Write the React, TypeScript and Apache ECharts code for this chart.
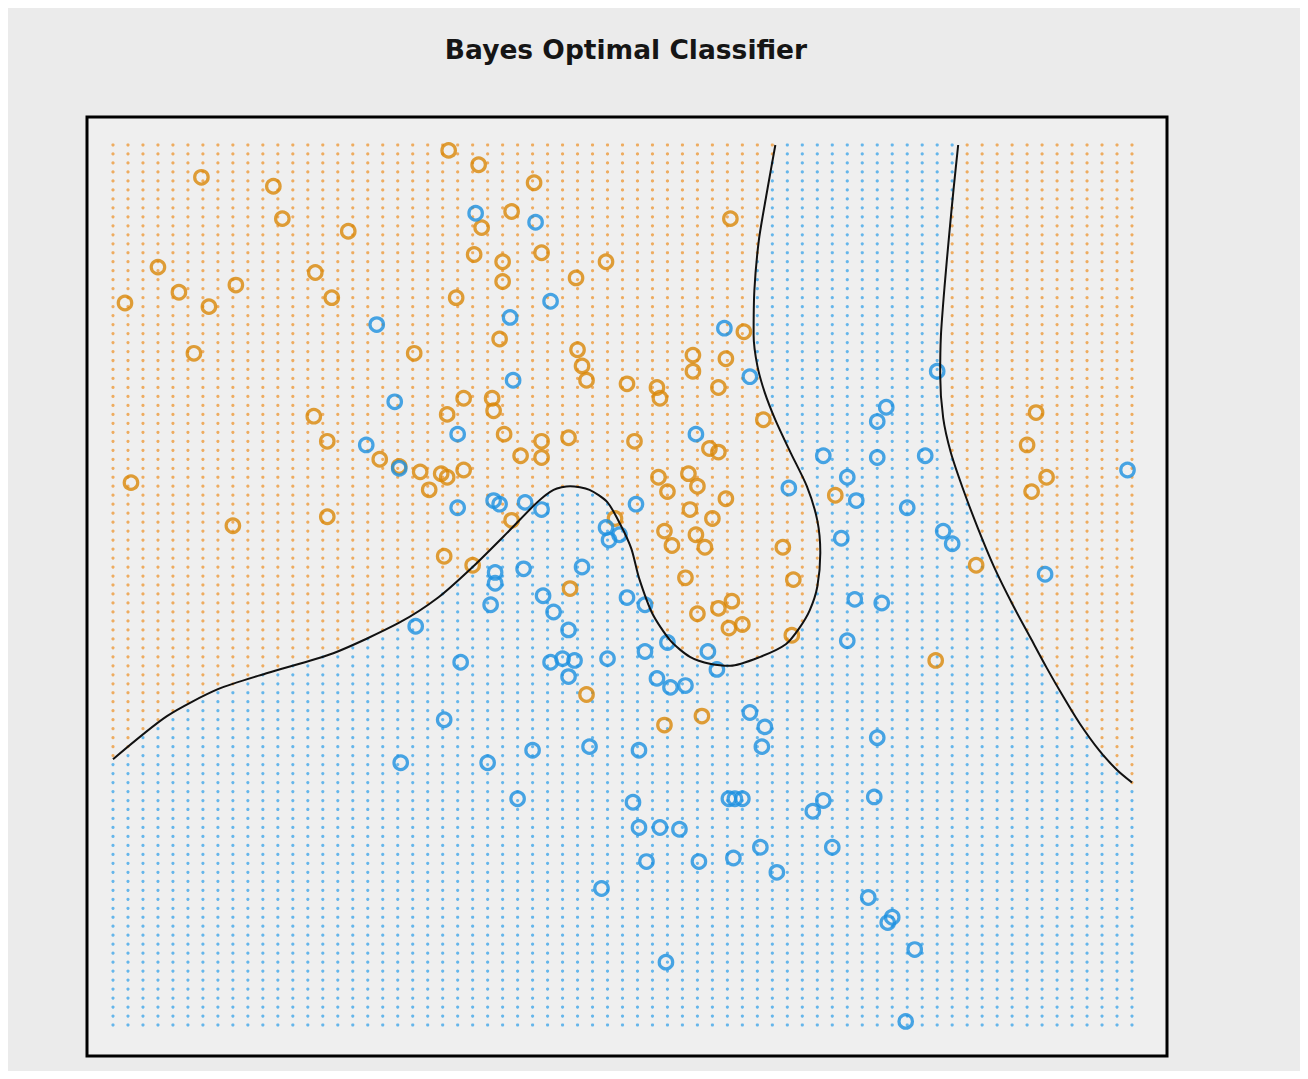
import React, { useEffect, useRef } from "react";
import * as echarts from "echarts";

// Training points of class "orange" (x1, x2)
const orangePoints: number[][] = [
  [-0.36, 2.87], [-0.16, 2.79], [-2.01, 2.72], [0.21, 2.69], [-1.53, 2.67],
  [-1.47, 2.49], [1.52, 2.49], [-1.03, 2.42], [0.06, 2.53], [-0.14, 2.44],
  [0.26, 2.30], [-0.19, 2.29], [0.0, 2.25], [0.0, 2.14], [0.69, 2.25],
  [0.49, 2.16], [-2.3, 2.22], [-1.25, 2.19], [-1.78, 2.12], [-2.16, 2.08],
  [-1.14, 2.05], [-2.52, 2.02], [-1.96, 2.0], [-0.31, 2.05], [-0.02, 1.82],
  [1.61, 1.86], [-2.06, 1.74], [-0.59, 1.74], [0.5, 1.76], [0.53, 1.67],
  [0.56, 1.59], [1.27, 1.73], [1.27, 1.64], [1.49, 1.71], [1.44, 1.55],
  [0.83, 1.57], [1.03, 1.55], [1.05, 1.49], [1.74, 1.37], [-0.26, 1.49],
  [-0.37, 1.4], [-0.07, 1.49], [-0.06, 1.42], [-1.26, 1.39], [-1.17, 1.25],
  [0.01, 1.29], [0.26, 1.25], [0.26, 1.16], [0.44, 1.27], [0.12, 1.17],
  [0.88, 1.25], [1.38, 1.21], [1.44, 1.19], [-0.82, 1.15], [-0.69, 1.11],
  [-0.55, 1.08], [-0.41, 1.07], [-0.37, 1.05], [-0.26, 1.09], [-0.49, 0.98],
  [-2.48, 1.02], [-1.8, 0.78], [-1.17, 0.83], [1.04, 1.05], [1.24, 1.07],
  [1.3, 1.0], [1.1, 0.97], [1.49, 0.93], [1.25, 0.87], [1.4, 0.82],
  [1.08, 0.75], [1.13, 0.67], [1.29, 0.73], [1.35, 0.66], [1.87, 0.66],
  [2.22, 0.95], [0.06, 0.81], [0.75, 0.82], [-0.39, 0.61], [-0.2, 0.56],
  [1.22, 0.49], [1.94, 0.48], [0.45, 0.43], [1.3, 0.29], [1.44, 0.32],
  [1.53, 0.36], [1.51, 0.21], [1.6, 0.23], [1.93, 0.17], [0.56, -0.16],
  [1.08, -0.33], [1.33, -0.28], [2.89, 0.03], [3.16, 0.56], [3.56, 1.41],
  [3.5, 1.23], [3.63, 1.05], [3.53, 0.97],
];

// Training points of class "blue" (x1, x2)
const bluePoints: number[][] = [
  [-0.18, 2.52], [0.22, 2.47], [0.32, 2.03], [0.05, 1.94], [-0.84, 1.9],
  [1.48, 1.88], [1.65, 1.61], [0.07, 1.59], [-0.72, 1.47], [-0.3, 1.29],
  [1.29, 1.29], [-0.91, 1.23], [-0.69, 1.1], [-0.3, 0.88], [-0.06, 0.92],
  [-0.02, 0.9], [0.15, 0.91], [0.26, 0.87], [0.89, 0.9], [0.69, 0.77],
  [0.71, 0.7], [0.78, 0.73], [-0.05, 0.52], [0.14, 0.54], [0.53, 0.55],
  [-0.05, 0.46], [-0.08, 0.34], [0.27, 0.39], [0.34, 0.3], [0.44, 0.2],
  [0.32, 0.02], [0.4, 0.04], [0.48, 0.03], [0.44, -0.06], [-0.28, 0.02],
  [0.7, 0.04], [0.83, 0.38], [0.95, 0.34], [0.95, 0.08], [1.1, 0.13],
  [1.03, -0.07], [1.12, -0.12], [1.22, -0.11], [1.37, 0.08], [1.43, -0.02],
  [1.65, -0.26], [1.75, -0.34], [1.73, -0.45], [-0.39, -0.3], [-0.1, -0.54],
  [0.2, -0.47], [0.58, -0.45], [0.91, -0.47], [0.1, -0.74], [0.87, -0.76],
  [0.91, -0.9], [1.05, -0.9], [1.18, -0.91], [0.96, -1.09], [1.31, -1.09],
  [1.54, -1.07], [1.72, -1.01], [1.83, -1.15], [1.51, -0.74], [1.55, -0.74],
  [1.6, -0.74], [0.66, -1.24], [1.09, -1.65], [-0.58, 0.22], [-0.68, -0.54],
  [2.35, 0.37], [2.53, 0.35], [2.3, 0.14], [2.5, -0.4], [2.48, -0.73],
  [2.14, -0.75], [2.07, -0.81], [2.2, -1.01], [2.44, -1.29], [2.6, -1.4],
  [2.57, -1.43], [2.75, -1.58], [2.69, -1.98], [2.9, 1.64], [2.56, 1.44],
  [2.5, 1.36], [2.14, 1.17], [2.5, 1.16], [2.82, 1.17], [2.3, 1.05],
  [2.36, 0.92], [2.7, 0.88], [2.94, 0.75], [3.0, 0.68], [2.26, 0.71],
  [1.91, 0.99], [3.62, 0.51], [4.17, 1.09],
];

// Bayes decision boundary, two pieces (x1, x2)
const boundaryA: number[][] = [
  [-2.6, -0.52], [-2.24, -0.28], [-1.9, -0.13], [-1.57, -0.04], [-1.13, 0.07],
  [-0.69, 0.24], [-0.43, 0.38], [-0.2, 0.55], [0.03, 0.74], [0.23, 0.91],
  [0.34, 0.98], [0.45, 1.0], [0.58, 0.98], [0.7, 0.91], [0.79, 0.78],
  [0.86, 0.65], [0.91, 0.49], [1.0, 0.29], [1.12, 0.14], [1.25, 0.05],
  [1.39, 0.01], [1.52, 0.0], [1.72, 0.05], [1.89, 0.12], [1.98, 0.21],
  [2.05, 0.31], [2.1, 0.44], [2.12, 0.63], [2.1, 0.81], [2.03, 1.0],
  [1.92, 1.19], [1.82, 1.37], [1.75, 1.52], [1.7, 1.67], [1.675, 1.84],
  [1.68, 2.09], [1.71, 2.37], [1.76, 2.62], [1.82, 2.9],
];
const boundaryB: number[][] = [
  [3.04, 2.9], [3.01, 2.66], [2.98, 2.4], [2.95, 2.12], [2.925, 1.84],
  [2.92, 1.62], [2.94, 1.38], [2.99, 1.19], [3.07, 0.99], [3.17, 0.77],
  [3.28, 0.55], [3.41, 0.33], [3.52, 0.16], [3.63, -0.01], [3.74, -0.17],
  [3.85, -0.32], [3.98, -0.47], [4.1, -0.58], [4.2, -0.65],
];

// Prediction lattice
const latticeX = [-2.6, 4.2, 0.1]; // start, end, step
const latticeY = [-2.0, 2.9, 0.05];

// Visible axis extents (the box)
const xExtent = [-2.7735, 4.4336];
const yExtent = [-2.1726, 3.0559];

const TITLE = "Bayes Optimal Classifier";

function inside(pt: number[], poly: number[][]): boolean {
  let c = false;
  for (let i = 0, j = poly.length - 1; i < poly.length; j = i++) {
    const [xi, yi] = poly[i];
    const [xj, yj] = poly[j];
    if ((yi > pt[1]) !== (yj > pt[1])) {
      const xx = ((xj - xi) * (pt[1] - yi)) / (yj - yi) + xi;
      if (pt[0] < xx) c = !c;
    }
  }
  return c;
}

export default function App() {
  const ref = useRef<HTMLDivElement>(null);

  useEffect(() => {
    if (!ref.current) return;
    const chart = echarts.init(ref.current, undefined, { renderer: "svg" });

    const regionA = [
      [-2.7, -0.55],
      ...boundaryA,
      [boundaryA[boundaryA.length - 1][0], 3.0],
      [-2.7, 3.0],
    ];
    const regionB = [...boundaryB, [4.3, -0.75], [4.3, 3.0], [boundaryB[0][0], 3.0]];

    const dotsOrange: number[][] = [];
    const dotsBlue: number[][] = [];
    const nx = Math.round((latticeX[1] - latticeX[0]) / latticeX[2]);
    const ny = Math.round((latticeY[1] - latticeY[0]) / latticeY[2]);
    for (let i = 0; i <= nx; i++) {
      const x = Math.round((latticeX[0] + i * latticeX[2]) * 100) / 100;
      for (let j = 0; j <= ny; j++) {
        const y = Math.round((latticeY[0] + j * latticeY[2]) * 100) / 100;
        const p = [x, y];
        if (inside(p, regionA) || inside(p, regionB)) dotsOrange.push(p);
        else dotsBlue.push(p);
      }
    }

    const circleStyle = (c: string) => ({
      color: "rgba(0,0,0,0)",
      borderColor: c,
      borderWidth: 3.2,
    });

    chart.setOption({
      animation: false,
      backgroundColor: "#ebebeb",
      graphic: [
        {
          type: "text",
          x: 618,
          y: 41,
          style: {
            text: TITLE,
            align: "center",
            verticalAlign: "middle",
            fontFamily: "DejaVu Sans",
            fontWeight: "bold",
            fontSize: 26.5,
            fill: "#151515",
          },
        },
      ],
      grid: {
        left: 79,
        top: 109,
        width: 1080,
        height: 939,
        show: true,
        backgroundColor: "#efefef",
        borderColor: "#000",
        borderWidth: 3,
      },
      xAxis: {
        type: "value",
        min: xExtent[0],
        max: xExtent[1],
        show: false,
        splitLine: { show: false },
      },
      yAxis: {
        type: "value",
        min: yExtent[0],
        max: yExtent[1],
        show: false,
        splitLine: { show: false },
      },
      series: [
        {
          type: "scatter",
          data: dotsOrange,
          symbol: "circle",
          symbolSize: 3.2,
          silent: true,
          itemStyle: { color: "#ee9b3c" },
          z: 1,
        },
        {
          type: "scatter",
          data: dotsBlue,
          symbol: "circle",
          symbolSize: 3.2,
          silent: true,
          itemStyle: { color: "#42a7ea" },
          z: 1,
        },
        {
          type: "scatter",
          data: orangePoints,
          symbol: "circle",
          symbolSize: 13.5,
          silent: true,
          itemStyle: circleStyle("#d98708"),
          z: 3,
        },
        {
          type: "scatter",
          data: bluePoints,
          symbol: "circle",
          symbolSize: 13.5,
          silent: true,
          itemStyle: circleStyle("#1c90e0"),
          z: 3,
        },
        {
          type: "line",
          data: boundaryA,
          showSymbol: false,
          smooth: 0.25,
          silent: true,
          lineStyle: { color: "#111", width: 2 },
          z: 4,
        },
        {
          type: "line",
          data: boundaryB,
          showSymbol: false,
          smooth: 0.25,
          silent: true,
          lineStyle: { color: "#111", width: 2 },
          z: 4,
        },
      ],
    });

    return () => chart.dispose();
  }, []);

  return (
    <div
      ref={ref}
      style={{ width: 1292, height: 1063, background: "#ebebeb" }}
    />
  );
}
